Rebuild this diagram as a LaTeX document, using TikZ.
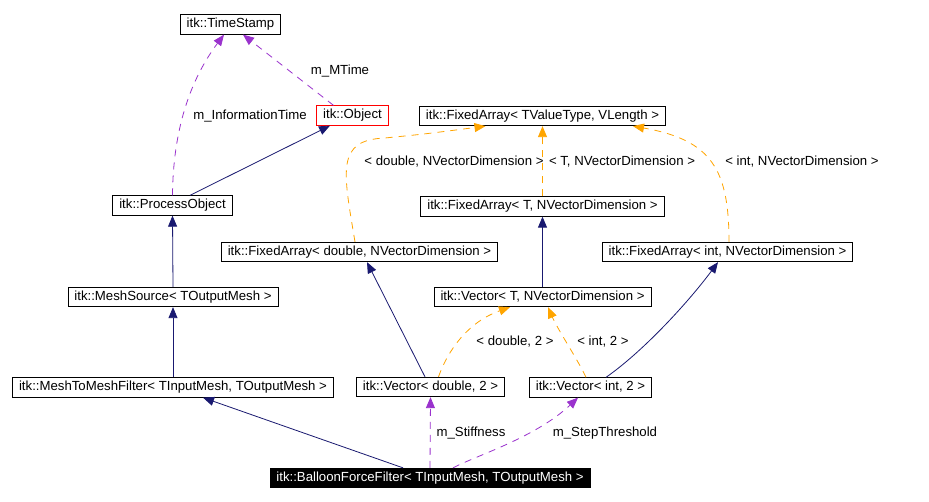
\documentclass[tikz,border=0pt]{standalone}
\usepackage{fontspec}
\setmainfont{Liberation Sans}
\usetikzlibrary{positioning,arrows.meta,calc}
\definecolor{cNavy}{HTML}{191970}
\definecolor{cUse}{HTML}{9A32CD}
\definecolor{cTmpl}{HTML}{FFA500}
\tikzset{
  cls/.style={draw=black,fill=white,font=\fontsize{13.2}{15}\selectfont,inner xsep=6.5pt,inner ysep=0pt,text height=10pt,text depth=3pt,minimum height=19.5pt,line width=0.8pt},
  clsred/.style={cls,draw=red},
  clsmain/.style={cls,fill=black,text=white},
  lbl/.style={font=\fontsize{13.2}{15}\selectfont,inner sep=1pt},
  inherit/.style={draw=cNavy,line width=0.8pt,-{Triangle[length=11pt,width=9pt]}},
  usage/.style={draw=cUse,line width=0.8pt,dash pattern=on 7pt off 6pt,-{Triangle[length=11pt,width=9pt]}},
  tmpl/.style={draw=cTmpl,line width=0.8pt,dash pattern=on 7pt off 6pt,-{Triangle[length=11pt,width=9pt]}}
}
\begin{document}
\begin{tikzpicture}[x=1pt,y=-1pt]
  \path[use as bounding box,fill=white] (0,0) rectangle (929,502);
  \node[cls] (tstamp) at (230.5,24.5) {itk::TimeStamp};
  \node[clsred] (obj) at (352.5,115.5) {itk::Object};
  \node[cls] (fatv) at (542.5,116) {itk::FixedArray< TValueType, VLength >};
  \node[cls] (pobj) at (172.5,205.5) {itk::ProcessObject};
  \node[cls] (fat) at (542.5,206.5) {itk::FixedArray< T, NVectorDimension >};
  \node[cls] (fad) at (359.5,252) {itk::FixedArray< double, NVectorDimension >};
  \node[cls] (fai) at (727.5,252) {itk::FixedArray< int, NVectorDimension >};
  \node[cls] (msrc) at (173,297) {itk::MeshSource< TOutputMesh >};
  \node[cls] (vt) at (542.5,297) {itk::Vector< T, NVectorDimension >};
  \node[cls] (m2m) at (173,387.5) {itk::MeshToMeshFilter< TInputMesh, TOutputMesh >};
  \node[cls] (vd) at (430.5,387) {itk::Vector< double, 2 >};
  \node[cls] (vi) at (590.5,387.5) {itk::Vector< int, 2 >};
  \node[clsmain] (bff) at (430,478) {itk::BalloonForceFilter< TInputMesh, TOutputMesh >};

  \node[lbl] (linfo) at (250,116) {m\_InformationTime};
  \node[lbl] (lmtime) at (340,71) {m\_MTime};
  \node[lbl] (lfad) at (454,162) {< double, NVectorDimension >};
  \node[lbl] (lfat) at (622,162) {< T, NVectorDimension >};
  \node[lbl] (lfai) at (802,162) {< int, NVectorDimension >};
  \node[lbl] (lvd) at (515,342) {< double, 2 >};
  \node[lbl] (lvi) at (603,342) {< int, 2 >};
  \node[lbl] (lstiff) at (471,433) {m\_Stiffness};
  \node[lbl] (lstep) at (605,433) {m\_StepThreshold};

  \draw[usage] (pobj.north) .. controls (173,130) and (190,80) .. ([xshift=-6.5pt]tstamp.south);
  \draw[usage] ([xshift=-19pt]obj.north) -- ([xshift=12.5pt]tstamp.south);
  \draw[inherit] ([xshift=17.5pt]pobj.north) -- ([xshift=-22.5pt]obj.south);
  \draw[inherit] (msrc.north) -- (pobj.south);
  \draw[inherit] (m2m.north) -- (msrc.south);
  \draw[inherit] ([xshift=-27pt]bff.north) -- ([xshift=30pt]m2m.south);
  \draw[usage] (bff.north) -- (vd.south);
  \draw[usage] ([xshift=23pt]bff.north) .. controls (475,456) and (535,438) .. ([xshift=-12.5pt]vi.south);
  \draw[tmpl] ([xshift=8pt]vd.north) .. controls (448,350) and (468,322) .. ([xshift=-32.5pt]vt.south);
  \draw[tmpl] ([xshift=-4.5pt]vi.north) .. controls (578,360) and (558,330) .. ([xshift=5.5pt]vt.south);
  \draw[inherit] ([xshift=-5.5pt]vd.north) -- ([xshift=7.5pt]fad.south);
  \draw[inherit] ([xshift=15.5pt]vi.north) .. controls (645,350) and (690,300) .. ([xshift=-9.5pt]fai.south);
  \draw[inherit] (vt.north) -- (fat.south);
  \draw[tmpl] (fat.north) -- (fatv.south);
  \draw[tmpl] ([xshift=-4.5pt]fad.north) .. controls (343,170) and (336,140) .. (385,138) .. controls (425,134) .. ([xshift=-57pt]fatv.south);
  \draw[tmpl] ([xshift=1.5pt]fai.north) .. controls (729,170) and (712,140) .. ([xshift=90.5pt]fatv.south);
\end{tikzpicture}
\end{document}
